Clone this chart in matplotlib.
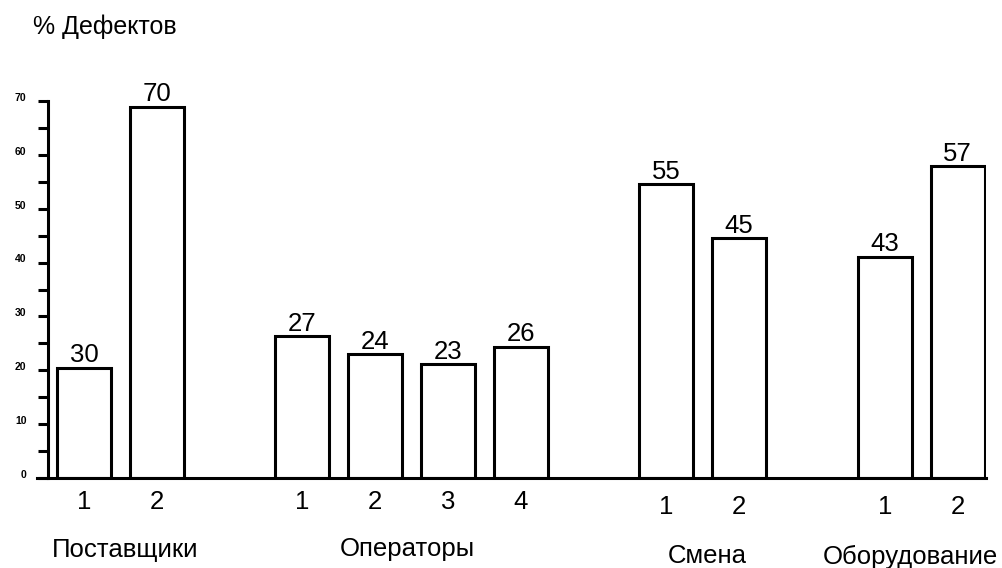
import matplotlib
matplotlib.use("Agg")
import matplotlib.pyplot as plt
import matplotlib.transforms as mtransforms
import numpy as np

plt.rcParams["font.family"] = ["Liberation Sans", "DejaVu Sans"]

# данные (высоты столбиков, подписи - как на исходнике)
groups = ["Поставщики", "Операторы", "Смена", "Оборудование"]
categories = [["1", "2"], ["1", "2", "3", "4"], ["1", "2"], ["1", "2"]]
bar_heights = [[20.5, 68.9], [26.3, 23.0, 21.1, 24.4], [54.5, 44.5], [41.1, 57.9]]
value_labels = [["30", "70"], ["27", "24", "23", "26"], ["55", "45"], ["43", "57"]]
y_ticks = [0, 10, 20, 30, 40, 50, 60, 70]

# раскладка: пустой слот между группами
BAR_W = 0.74
FS = 18.5
TICK_DY = [17, 17, 21, 21]    # pt, подписи номеров ниже оси
GROUP_DY = [52, 51, 56, 57]   # pt, названия групп
GROUP_DX = [3.5, -3, 3, -8]   # pt, сдвиг названий групп

fig = plt.figure(figsize=(10.03, 5.68), dpi=100)
ax = fig.add_axes([37 / 1003, 90 / 568, 949 / 1003, 377 / 568])

pos = 0
for g, (name, cats, hs, labs) in enumerate(zip(groups, categories, bar_heights, value_labels)):
    xs = pos + np.arange(len(cats))
    pos += len(cats) + 1
    ax.bar(xs, hs, width=BAR_W, facecolor="white", edgecolor="black", linewidth=2.2)
    for x, h, lab, c in zip(xs, hs, labs, cats):
        ax.annotate(lab, (x, h), xytext=(0, 4), textcoords="offset points",
                    ha="center", va="baseline", fontsize=FS)
        ax.annotate(c, (x, 0), xytext=(0, -TICK_DY[g]), textcoords="offset points",
                    ha="center", va="center", fontsize=FS)
    ax.annotate(name, (xs.mean(), 0), xytext=(GROUP_DX[g], -GROUP_DY[g]),
                textcoords="offset points", ha="center", va="center", fontsize=FS)

ax.set_xlim(-0.645, 12.39)
ax.set_ylim(0, 70)
for s in ["top", "right"]:
    ax.spines[s].set_visible(False)
ax.spines["left"].set_position(("data", -0.495))
ax.spines["left"].set_linewidth(2.2)
ax.spines["bottom"].set_linewidth(2.2)
ax.set_xticks([])
ax.set_yticks(y_ticks)
ax.set_yticks(np.arange(5, 70, 10), minor=True)
ax.tick_params(axis="y", which="both", length=7.5, width=2.2, direction="out")
ax.tick_params(axis="y", which="major", labelsize=7.5, pad=8)
off = mtransforms.ScaledTranslation(0, 3 / 72, fig.dpi_scale_trans)
for lbl in ax.get_yticklabels():
    lbl.set_fontweight("bold")
    lbl.set_transform(lbl.get_transform() + off)

fig.text(33 / 1003, 1 - 26.5 / 568, "% Дефектов", ha="left", va="center", fontsize=18)

fig.savefig("out.png", dpi=100)
